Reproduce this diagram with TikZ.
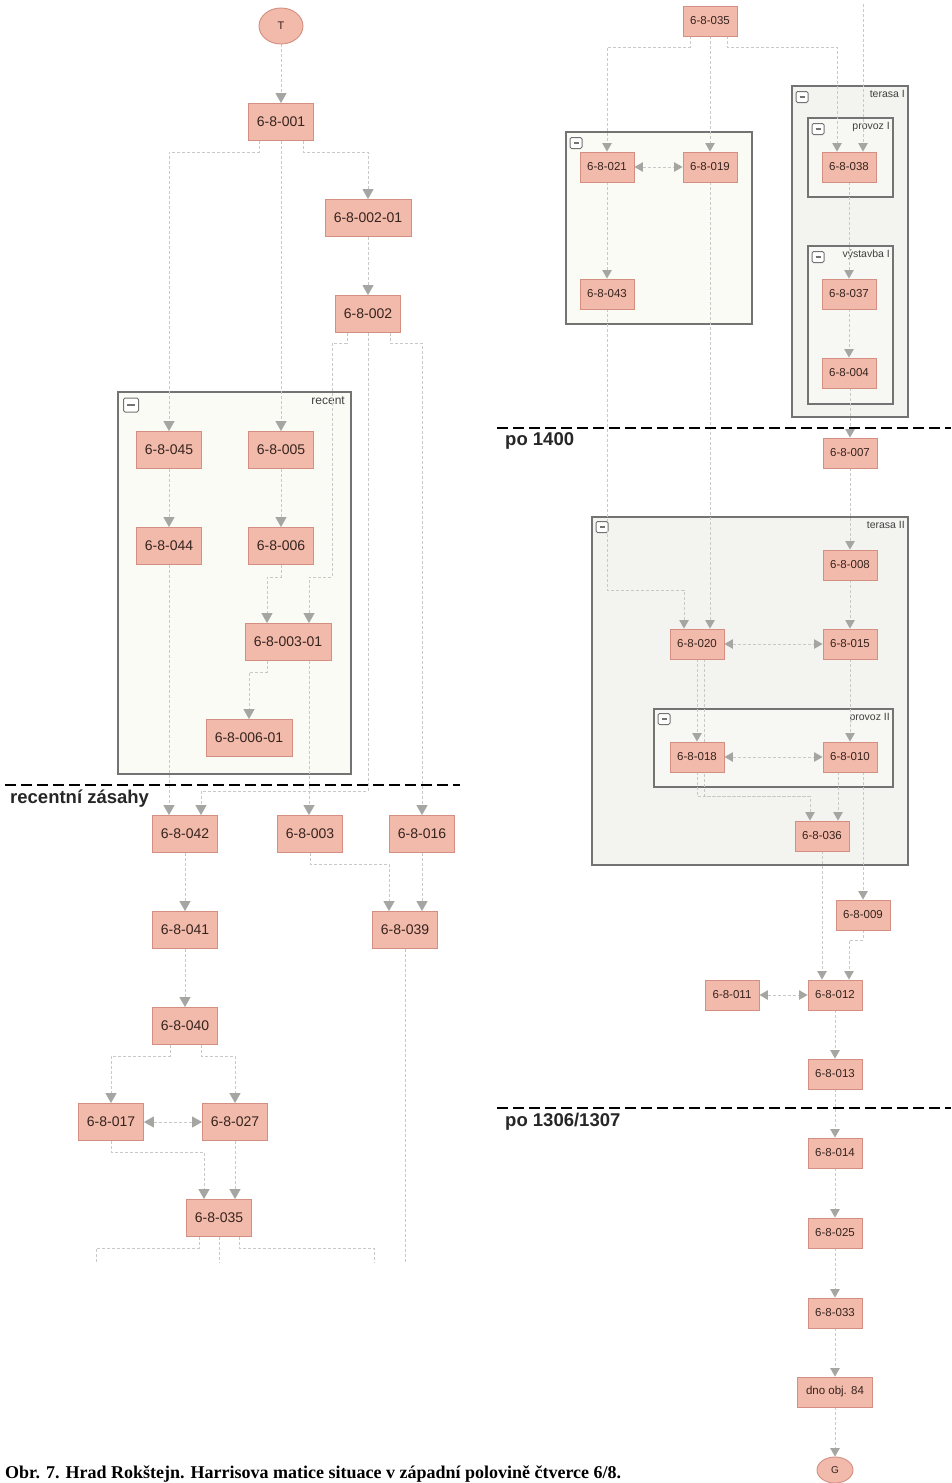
\documentclass[tikz,border=0pt]{standalone}
\usepackage{fontspec}
\usetikzlibrary{arrows.meta,shapes.geometric,calc}
\newfontfamily\diagfont{Liberation Sans}
\newfontfamily\capfont{Liberation Serif}
\newcommand\leftfnt{\diagfont\fontsize{14}{16}\selectfont}
\newcommand\rightfnt{\diagfont\fontsize{11.5}{13}\selectfont}
\newcommand\grpfnt{\diagfont\fontsize{12}{14}\selectfont}
\newcommand\rgrpfnt{\diagfont\fontsize{10.5}{12}\selectfont}
\newcommand\sepfnt{\diagfont\bfseries\fontsize{18.5}{20}\selectfont}
\definecolor{nodefill}{RGB}{241,186,170}
\definecolor{nodeborder}{RGB}{212,142,130}
\definecolor{nodetext}{RGB}{55,35,30}
\definecolor{edgegray}{RGB}{200,200,200}
\definecolor{arrowgray}{RGB}{165,165,162}
\definecolor{grpborder}{RGB}{115,115,115}
\definecolor{grpfillA}{RGB}{251,251,246}
\definecolor{grpfillB}{RGB}{243,243,239}
\definecolor{grpfillC}{RGB}{247,247,243}
\pgfdeclarelayer{grplayer}
\pgfdeclarelayer{edgelayer}
\pgfsetlayers{grplayer,edgelayer,main}
\tikzset{
  box/.style={draw=nodeborder, fill=nodefill, line width=0.9pt, minimum width=65pt, minimum height=37pt, inner sep=1pt, font=\leftfnt, text=nodetext},
  rbox/.style={box, minimum width=54pt, minimum height=30pt, font=\rightfnt},
  oval/.style={ellipse, draw=nodeborder, fill=nodefill, line width=0.9pt, inner sep=0pt, text=nodetext},
  bigtip/.tip={Triangle[width=11pt,length=10pt,color=arrowgray,fill=arrowgray]},
  smalltip/.tip={Triangle[width=9.5pt,length=8.5pt,color=arrowgray,fill=arrowgray]},
  edge/.style={draw=edgegray, line width=0.9pt, dash pattern=on 3pt off 2pt, -bigtip},
  redge/.style={draw=edgegray, line width=0.9pt, dash pattern=on 3pt off 2pt, -smalltip},
  plain/.style={draw=edgegray, line width=0.9pt, dash pattern=on 3pt off 2pt},
  bi/.style={draw=edgegray, line width=0.9pt, dash pattern=on 3pt off 2pt, bigtip-bigtip},
  rbi/.style={draw=edgegray, line width=0.9pt, dash pattern=on 3pt off 2pt, smalltip-smalltip},
  grp/.style={draw=grpborder, line width=1.3pt},
  iconbox/.style={draw=grpborder, fill=white, line width=1pt, minimum width=15pt, minimum height=14pt, inner sep=0pt, rounded corners=1.5pt,
    path picture={\draw[grpborder, line width=1.3pt] ([xshift=3.5pt]path picture bounding box.west) -- ([xshift=-3.5pt]path picture bounding box.east);}},
  riconbox/.style={iconbox, minimum width=12pt, minimum height=11pt},
  sepline/.style={line width=2.8pt, dash pattern=on 11pt off 5pt, black},
  seplabel/.style={font=\sepfnt, anchor=west, inner sep=0pt, text=black!85},
  glabel/.style={font=\grpfnt, anchor=north east, inner sep=0pt, text=black!75},
  rglabel/.style={font=\rgrpfnt, anchor=north east, inner sep=0pt, text=black!75},
}
\begin{document}
\begin{tikzpicture}[x=1pt,y=-1pt]
\begin{pgfonlayer}{grplayer}
\fill[white] (0,0) rectangle (951,1483);
\end{pgfonlayer}
\useasboundingbox (0,0) rectangle (951,1483);

% ---------- groups ----------
\begin{pgfonlayer}{grplayer}
\draw[grp, fill=grpfillA] (118,392) rectangle (351,774);
\node[iconbox] (icRecent) at (131,405) {};
\node[glabel] (lRecent) at (345,397) {recent};

\draw[grp, fill=grpfillA] (566,132) rectangle (752,324);
\node[riconbox] (icG1) at (576,143) {};

\draw[grp, fill=grpfillB] (792,86) rectangle (908,417);
\node[riconbox] (icTerI) at (802,97) {};
\node[rglabel] (lTerI) at (905,90) {terasa I};
\draw[grp, fill=grpfillC] (808,118) rectangle (893,197);
\node[riconbox] (icProvI) at (818,129) {};
\node[rglabel] (lProvI) at (890,122) {provoz I};
\draw[grp, fill=grpfillC] (808,246) rectangle (893,404);
\node[riconbox] (icVysI) at (818,257) {};
\node[rglabel] (lVysI) at (890,250) {výstavba I};

\draw[grp, fill=grpfillB] (592,517) rectangle (908,865);
\node[riconbox] (icTerII) at (602,527) {};
\node[rglabel] (lTerII) at (905,521) {terasa II};
\draw[grp, fill=grpfillC] (654,709) rectangle (893,787);
\node[riconbox] (icProvII) at (664,719) {};
\node[rglabel] (lProvII) at (890,713) {provoz II};
\end{pgfonlayer}

% ---------- nodes (left) ----------
\node[oval, minimum width=44pt, minimum height=36pt, font=\diagfont\fontsize{11}{12}\selectfont] (T) at (281,26) {T};
\node[box] (n001) at (281,122) {6-8-001};
\node[box, minimum width=86pt] (n00201) at (368,218) {6-8-002-01};
\node[box] (n002) at (368,314) {6-8-002};
\node[box] (n045) at (169,450) {6-8-045};
\node[box] (n005) at (281,450) {6-8-005};
\node[box] (n044) at (169,546) {6-8-044};
\node[box] (n006) at (281,546) {6-8-006};
\node[box, minimum width=86pt] (n00301) at (288,642) {6-8-003-01};
\node[box, minimum width=86pt] (n00601) at (249,738) {6-8-006-01};
\node[box] (n042) at (185,834) {6-8-042};
\node[box] (n003) at (310,834) {6-8-003};
\node[box] (n016) at (422,834) {6-8-016};
\node[box] (n041) at (185,930) {6-8-041};
\node[box] (n039) at (405,930) {6-8-039};
\node[box] (n040) at (185,1026) {6-8-040};
\node[box] (n017) at (111,1122) {6-8-017};
\node[box] (n027) at (235,1122) {6-8-027};
\node[box] (n035) at (219,1218) {6-8-035};
\coordinate (outL) at (96,1262);
\coordinate (outC) at (219,1262);
\coordinate (outR) at (374,1262);
\coordinate (out39) at (405,1262);

% ---------- nodes (right) ----------
\node[rbox] (r035) at (710,21) {6-8-035};
\coordinate (inTop) at (863,4);
\node[rbox] (r021) at (607,167) {6-8-021};
\node[rbox] (r019) at (710,167) {6-8-019};
\node[rbox] (r043) at (607,294) {6-8-043};
\node[rbox] (r038) at (849,167) {6-8-038};
\node[rbox] (r037) at (849,294) {6-8-037};
\node[rbox] (r004) at (849,373) {6-8-004};
\node[rbox] (r007) at (850,453) {6-8-007};
\node[rbox] (r008) at (850,565) {6-8-008};
\node[rbox] (r020) at (697,644) {6-8-020};
\node[rbox] (r015) at (850,644) {6-8-015};
\node[rbox] (r018) at (697,757) {6-8-018};
\node[rbox] (r010) at (850,757) {6-8-010};
\node[rbox] (r036) at (822,836) {6-8-036};
\node[rbox] (r009) at (863,915) {6-8-009};
\node[rbox] (r011) at (732,995) {6-8-011};
\node[rbox] (r012) at (835,995) {6-8-012};
\node[rbox] (r013) at (835,1074) {6-8-013};
\node[rbox] (r014) at (835,1153) {6-8-014};
\node[rbox] (r025) at (835,1233) {6-8-025};
\node[rbox] (r033) at (835,1313) {6-8-033};
\node[rbox, minimum width=75pt] (rdno) at (835,1392) {dno obj. 84};
\node[oval, minimum width=36pt, minimum height=26pt, font=\diagfont\fontsize{10}{11}\selectfont] (G) at (835,1470) {G};

\begin{pgfonlayer}{edgelayer}
% ---------- edges (left) ----------
\draw[edge] (T.south) -- (n001.north);
\draw[edge] ([xshift=-22pt]n001.south) -- ++(0,11) -| (n045.north);
\draw[edge] (n001.south) -- (n005.north);
\draw[edge] ([xshift=22pt]n001.south) -- ++(0,11) -| (n00201.north);
\draw[edge] (n00201.south) -- (n002.north);
\draw[edge] ([xshift=-21pt]n002.south) |- (332,343) |- (309,577) -- ([xshift=21pt]n00301.north);
\draw[edge] (n002.south) -- (368,791) -| ([xshift=16pt]n042.north);
\draw[edge] ([xshift=22pt]n002.south) -- ++(0,10) -| (n016.north);
\draw[edge] (n045.south) -- (n044.north);
\draw[edge] (n044.south) -- ([xshift=-16pt]n042.north);
\draw[edge] (n005.south) -- (n006.north);
\draw[edge] (n006.south) -- ++(0,12) -| ([xshift=-21pt]n00301.north);
\draw[edge] ([xshift=-21pt]n00301.south) -- ++(0,11) -| (n00601.north);
\draw[edge] ([xshift=21pt]n00301.south) -- ([xshift=-1pt]n003.north);
\draw[edge] (n003.south) -- ++(0,11) -| ([xshift=-16pt]n039.north);
\draw[edge] (n016.south) -- ([xshift=17pt]n039.north);
\draw[edge] (n042.south) -- (n041.north);
\draw[edge] (n041.south) -- (n040.north);
\draw[edge] ([xshift=-15pt]n040.south) -- ++(0,11) -| (n017.north);
\draw[edge] ([xshift=16pt]n040.south) -- ++(0,11) -| (n027.north);
\draw[bi] (n017.east) -- (n027.west);
\draw[edge] (n017.south) -- ++(0,11) -| ([xshift=-15pt]n035.north);
\draw[edge] (n027.south) -- ([xshift=16pt]n035.north);
\draw[plain] ([xshift=-20pt]n035.south) -- ++(0,11) -| (outL);
\draw[plain] (n035.south) -- (outC);
\draw[plain] ([xshift=20pt]n035.south) -- ++(0,11) -| (outR);
\draw[plain] (n039.south) -- (out39);

% ---------- edges (right) ----------
\draw[redge] (inTop) -- ([xshift=14pt]r038.north);
\draw[redge] ([xshift=-20pt]r035.south) -- ++(0,11) -| (r021.north);
\draw[redge] (r035.south) -- (r019.north);
\draw[redge] ([xshift=17pt]r035.south) -- ++(0,11) -| ([xshift=-12pt]r038.north);
\draw[rbi] (r021.east) -- (r019.west);
\draw[redge] (r021.south) -- (r043.north);
\draw[redge] (r043.south) -- (607,590) -| ([xshift=-13pt]r020.north);
\draw[redge] (r019.south) -- ([xshift=13pt]r020.north);
\draw[redge] (r038.south) -- (r037.north);
\draw[redge] (r037.south) -- (r004.north);
\draw[redge] ([xshift=1pt]r004.south) -- (r007.north);
\draw[redge] (r007.south) -- (r008.north);
\draw[redge] (r008.south) -- (r015.north);
\draw[rbi] (r020.east) -- (r015.west);
\draw[redge] (r015.south) -- (r010.north);
\draw[redge] (r020.south) -- (r018.north);
\draw[rbi] (r018.east) -- (r010.west);
\draw[plain] ([xshift=7pt]r020.south) -- (704,796) -- (810,796);
\draw[redge] (r018.south) -- (697,796) -| ([xshift=-12pt]r036.north);
\draw[redge] ([xshift=-12pt]r010.south) -- ([xshift=16pt]r036.north);
\draw[redge] ([xshift=13pt]r010.south) -- (r009.north);
\draw[redge] (r036.south) -- ([xshift=-13pt]r012.north);
\draw[redge] (r009.south) -- ++(0,10) -| ([xshift=14pt]r012.north);
\draw[rbi] (r011.east) -- (r012.west);
\draw[redge] (r012.south) -- (r013.north);
\draw[redge] (r013.south) -- (r014.north);
\draw[redge] (r014.south) -- (r025.north);
\draw[redge] (r025.south) -- (r033.north);
\draw[redge] (r033.south) -- (rdno.north);
\draw[redge] (rdno.south) -- (G.north);
\end{pgfonlayer}

% ---------- separators ----------
\draw[sepline] (5,785) -- (460,785);
\node[seplabel] (sRec) at (10,799) {recentní zásahy};
\draw[sepline] (497,428) -- (951,428);
\node[seplabel] (s1400) at (505,441) {po 1400};
\draw[sepline] (497,1108) -- (951,1108);
\node[seplabel] (s1306) at (505,1122) {po 1306/1307};

% ---------- caption ----------
\node[font=\capfont\bfseries\fontsize{18}{20}\selectfont, anchor=west, inner sep=0pt] (cap) at (5,1474) {Obr. 7. Hrad Rokštejn. Harrisova matice situace v západní polovině čtverce 6/8.};
\end{tikzpicture}
\end{document}
